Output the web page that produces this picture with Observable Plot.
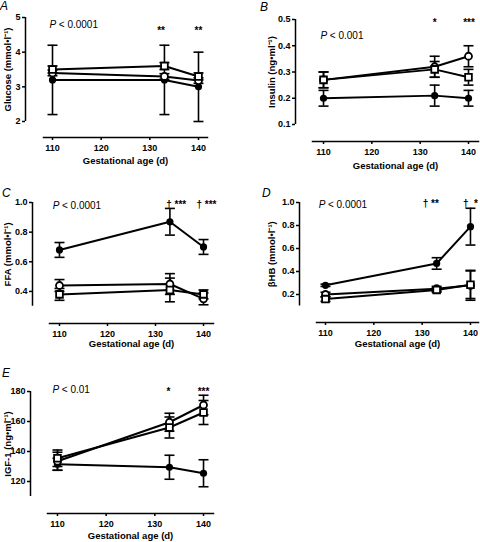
<!DOCTYPE html>
<html>
<head>
<meta charset="utf-8">
<script src="https://cdn.jsdelivr.net/npm/d3@7"></script>
<script src="https://cdn.jsdelivr.net/npm/@observablehq/plot@0.6"></script>
<style>
  html, body { margin: 0; padding: 0; background: #fff; }
  #chart { position: relative; width: 480px; height: 542px; overflow: hidden; font-family: "Liberation Sans", Arial, sans-serif; }
  .panel { position: absolute; }
  .letter { position: absolute; font-style: italic; font-size: 12px; line-height: 12px; color: #000; }
</style>
</head>
<body>
<div id="chart"></div>
<script>
const FONT = '"Liberation Sans", Arial, sans-serif';

// ---------- shared x values ----------
const ages = [110, 133, 140];
const xTickValues = [110, 120, 130, 140];

// ---------- A: Glucose (mmol/l) ----------
const glucoseTicks = [2, 3, 4, 5];
const glucoseFilled = [3.2, 3.2, 3.0];
const glucoseFilledSem = [1.0, 1.0, 1.0];
const glucoseCircle = [3.4, 3.3, 3.18];
const glucoseCircleSem = [0.08, 0.08, 0.08];
const glucoseSquare = [3.5, 3.6, 3.3];
const glucoseSquareSem = [0.1, 0.1, 0.1];
const glucoseNotes = [{x: 132.3, t: "**"}, {x: 140, t: "**"}];

// ---------- B: Insulin (ng/ml) ----------
const insulinTicks = [0.1, 0.2, 0.3, 0.4, 0.5];
const insulinFilled = [0.20, 0.21, 0.20];
const insulinFilledSem = [0.03, 0.04, 0.03];
const insulinCircle = [0.27, 0.32, 0.36];
const insulinCircleSem = [0.03, 0.04, 0.04];
const insulinSquare = [0.27, 0.31, 0.28];
const insulinSquareSem = [0.03, 0.03, 0.03];
const insulinNotes = [{x: 133, t: "*"}, {x: 140.1, t: "***"}];

// ---------- C: FFA (mmol/l) ----------
const ffaTicks = [0.4, 0.6, 0.8, 1.0];
const ffaFilled = [0.68, 0.87, 0.70];
const ffaFilledSem = [0.05, 0.09, 0.05];
const ffaCircle = [0.44, 0.45, 0.35];
const ffaCircleSem = [0.04, 0.07, 0.04];
const ffaSquare = [0.38, 0.41, 0.38];
const ffaSquareSem = [0.04, 0.08, 0.03];
const ffaNotes = [{x: 134.3, t: "† ***"}, {x: 140.6, t: "† ***"}];

// ---------- D: βHB (mmol/l) ----------
const bhbTicks = [0.2, 0.4, 0.6, 0.8, 1.0];
const bhbFilled = [0.28, 0.47, 0.79];
const bhbFilledSem = [0.01, 0.05, 0.16];
const bhbCircle = [0.20, 0.25, 0.28];
const bhbCircleSem = [0.02, 0.02, 0.13];
const bhbSquare = [0.16, 0.24, 0.285];
const bhbSquareSem = [0.02, 0.02, 0.12];
const bhbNotes = [{x: 131.8, t: "† **"}, {x: 140.0, t: "†  *"}];

// ---------- E: IGF-1 (ng/ml) ----------
const igfTicks = [120, 140, 160, 180];
const igfFilled = [131.5, 129.5, 125.5];
const igfFilledSem = [4, 8, 9];
const igfCircle = [133.5, 159.5, 171];
const igfCircleSem = [6, 6, 6.5];
const igfSquare = [135.5, 156, 166];
const igfSquareSem = [5.5, 7, 8];
const igfNotes = [{x: 132.8, t: "*"}, {x: 140, t: "***"}];

// ---------- panel layout ----------
const panels = [
  {letter: "A", left: 0, top: 0, width: 240, height: 180, mL: 43, mR: 33, mB: 43,
   xDomain: [108.15, 141.85], yDomain: [2, 5], yRange: [121, 17], offset: 18, titleDx: -35.5,
   yTicks: glucoseTicks, fmt: "d", yTitle: "Glucose (mmol•l⁻¹)",
   filled: [glucoseFilled, glucoseFilledSem], circle: [glucoseCircle, glucoseCircleSem], square: [glucoseSquare, glucoseSquareSem],
   p: "< 0.0001", pAt: [109.4, 4.71], notes: glucoseNotes, noteY: 4.52, titleDy: 26},
  {letter: "B", left: 240, top: 0, width: 240, height: 180, mL: 72, mR: 2, mB: 39,
   xDomain: [107.72, 142.07], yDomain: [0.1, 0.5], yRange: [124, 19], offset: 17, titleDx: -41,
   yTicks: insulinTicks, fmt: ".1f", yTitle: "Insulin (ng•ml⁻¹)",
   filled: [insulinFilled, insulinFilledSem], circle: [insulinCircle, insulinCircleSem], square: [insulinSquare, insulinSquareSem],
   p: "< 0.001", pAt: [109.4, 0.424], notes: insulinNotes, noteY: 0.474, titleDy: 27},
  {letter: "C", left: 0, top: 180, width: 240, height: 180, mL: 49, mR: 27, mB: 37,
   xDomain: [107.92, 142.08], yDomain: [0.3, 1.0], yRange: [125.75, 22], offset: 17, titleDx: -41.5,
   yTicks: ffaTicks, fmt: ".1f", yTitle: "FFA (mmol•l⁻¹)",
   filled: [ffaFilled, ffaFilledSem], circle: [ffaCircle, ffaCircleSem], square: [ffaSquare, ffaSquareSem],
   p: "< 0.0001", pAt: [108.6, 0.953], notes: ffaNotes, noteY: 0.966, titleDy: 23},
  {letter: "D", left: 240, top: 180, width: 240, height: 180, mL: 76, mR: 2, mB: 38,
   xDomain: [108.14, 141.66], yDomain: [0.1, 1.0], yRange: [125.5, 22], offset: 17, titleDx: -44.5,
   yTicks: bhbTicks, fmt: ".1f", yTitle: "βHB (mmol•l⁻¹)",
   filled: [bhbFilled, bhbFilledSem], circle: [bhbCircle, bhbCircleSem], square: [bhbSquare, bhbSquareSem],
   p: "< 0.0001", pAt: [108.6, 0.948], notes: bhbNotes, noteY: 0.962, titleDy: 24},
  {letter: "E", left: 0, top: 360, width: 240, height: 182, mL: 47, mR: 27, mB: 29,
   xDomain: [107.95, 142.05], yDomain: [110, 180], yRange: [136, 31], offset: 17, titleDx: -39.5,
   yTicks: igfTicks, fmt: "d", yTitle: "IGF-1 (ng•ml⁻¹)",
   filled: [igfFilled, igfFilledSem], circle: [igfCircle, igfCircleSem], square: [igfSquare, igfSquareSem],
   p: "< 0.01", pAt: [109, 179.3], notes: igfNotes, noteY: 178, titleDy: 25}
];

const capSymbol = {
  draw(context, size) {
    const r = Math.sqrt(size / Math.PI);
    context.moveTo(-r, 0);
    context.lineTo(r, 0);
  }
};

function makePanel(cfg) {
  const rows = [];
  for (const [kind, [vals, sems]] of [["filled", cfg.filled], ["circle", cfg.circle], ["square", cfg.square]]) {
    vals.forEach((v, i) => rows.push({kind, age: ages[i], v, e: sems[i]}));
  }
  const caps = rows.flatMap(d => [{age: d.age, y: d.v - d.e}, {age: d.age, y: d.v + d.e}]);
  const yMid = (cfg.yDomain[0] + cfg.yDomain[1]) / 2;
  const pRow = [{x: cfg.pAt[0], y: cfg.pAt[1]}];
  return Plot.plot({
    width: cfg.width, height: cfg.height,
    marginLeft: cfg.mL, marginRight: cfg.mR, marginBottom: cfg.mB, marginTop: 10,
    style: {fontFamily: FONT, fontSize: "9px", fontWeight: "bold", color: "black", background: "transparent", overflow: "visible"},
    x: {domain: cfg.xDomain},
    y: {domain: cfg.yDomain, range: cfg.yRange},
    marks: [
      Plot.frame({anchor: "bottom", strokeWidth: 1.5}),
      Plot.axisX(xTickValues, {tickSize: 3, tickPadding: 4, tickFormat: "d", label: null, strokeWidth: 1.5}),
      Plot.ruleX([cfg.xDomain[0]], {y1: cfg.yDomain[0], y2: cfg.yDomain[1], dx: -cfg.offset, strokeWidth: 1.5}),
      Plot.axisY(cfg.yTicks, {tickSize: 3, tickPadding: 2, tickFormat: cfg.fmt, label: null, dx: -cfg.offset, strokeWidth: 1.5}),
      Plot.text([cfg.yTitle], {frameAnchor: "left", y: () => yMid, text: d => d, rotate: -90, dx: cfg.titleDx,
        textAnchor: "middle", lineAnchor: "middle", fontSize: 9.5, fontWeight: "bold"}),
      Plot.text(["Gestational age (d)"], {frameAnchor: "bottom", text: d => d, dy: cfg.titleDy, lineAnchor: "bottom",
        fontSize: 9.5, fontWeight: "bold"}),
      // error bars
      Plot.ruleX(rows, {x: "age", y1: d => d.v - d.e, y2: d => d.v + d.e, strokeWidth: 1.6}),
      Plot.dot(caps, {x: "age", y: "y", symbol: capSymbol, r: 5, stroke: "black", strokeWidth: 1.6, fill: "none"}),
      // lines
      Plot.line(rows, {x: "age", y: "v", z: "kind", stroke: "black", strokeWidth: 2}),
      // markers
      Plot.dot(rows.filter(d => d.kind === "filled"), {x: "age", y: "v", r: 3.6, fill: "black"}),
      Plot.dot(rows.filter(d => d.kind === "circle"), {x: "age", y: "v", r: 3.5, fill: "white", stroke: "black", strokeWidth: 1.8}),
      Plot.dot(rows.filter(d => d.kind === "square"), {x: "age", y: "v", symbol: "square", r: 3.8, fill: "white", stroke: "black", strokeWidth: 1.8}),
      // P value
      Plot.text(pRow, {x: "x", y: "y", text: () => "P", fontStyle: "italic", fontWeight: "normal", fontSize: 10, textAnchor: "start", lineAnchor: "bottom"}),
      Plot.text(pRow, {x: "x", y: "y", text: () => cfg.p, dx: 9.2, fontWeight: "normal", fontSize: 10, textAnchor: "start", lineAnchor: "bottom"}),
      // significance marks
      Plot.text(cfg.notes, {x: "x", y: () => cfg.noteY, text: "t", fontWeight: "bold", fontSize: 10, textAnchor: "middle", lineAnchor: "bottom"})
    ]
  });
}

const chart = document.getElementById("chart");
for (const cfg of panels) {
  const div = document.createElement("div");
  div.className = "panel";
  div.style.left = cfg.left + "px";
  div.style.top = cfg.top + "px";
  div.appendChild(makePanel(cfg));
  chart.appendChild(div);
  const letter = document.createElement("div");
  letter.className = "letter";
  letter.textContent = cfg.letter;
  const lx = {A: 0, B: 260, C: 2, D: 262, E: 2}[cfg.letter];
  const ly = {A: 0, B: 1, C: 187, D: 187, E: 367}[cfg.letter];
  letter.style.left = lx + "px";
  letter.style.top = ly + "px";
  chart.appendChild(letter);
}
</script>
</body>
</html>
